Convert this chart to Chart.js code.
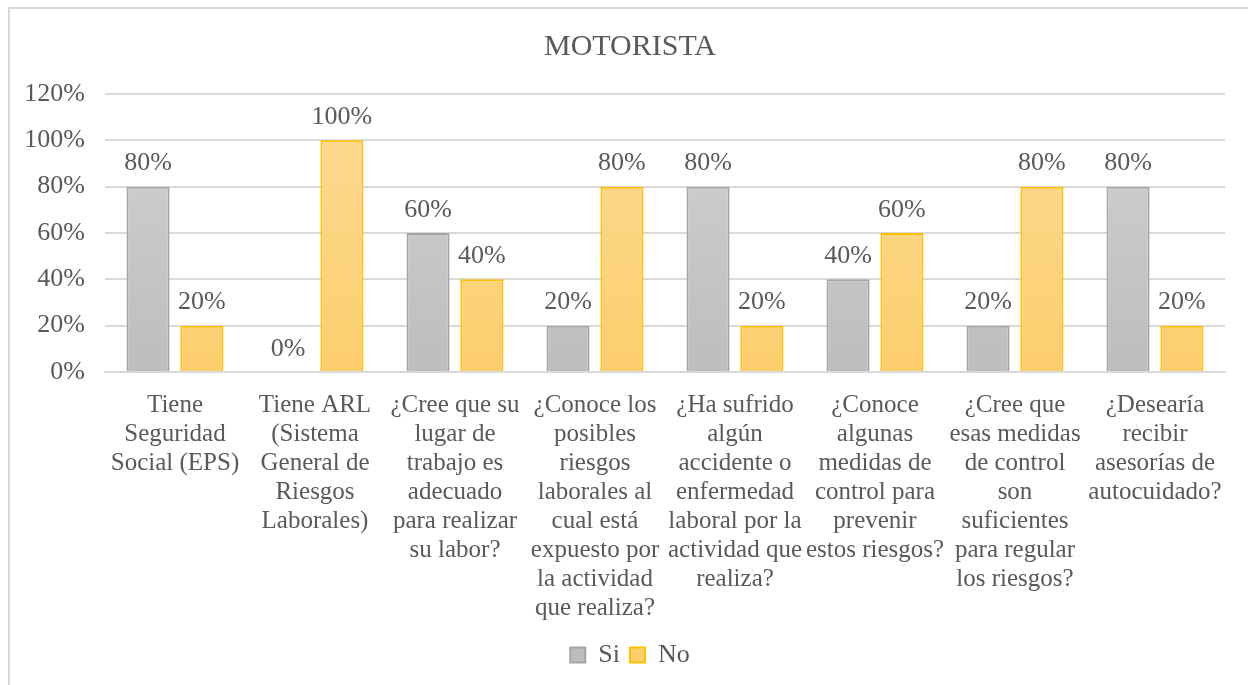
<!DOCTYPE html>
<html>
<head>
<meta charset="utf-8">
<script src="https://cdn.jsdelivr.net/npm/chart.js@4/dist/chart.umd.min.js"></script>
<style>
  html, body { margin: 0; padding: 0; background: #fff; }
  #wrap {
    position: absolute; left: 8px; top: 7px;
    width: 1240px; height: 678px;
    border-top: 2px solid #d9d9d9; border-left: 2px solid #d9d9d9;
  }
</style>
</head>
<body>
<div id="wrap"><canvas id="chart-area"></canvas></div>
<script>
// chart data
var categories = [
	["Tiene", "Seguridad", "Social (EPS)"],
	["Tiene ARL", "(Sistema", "General de", "Riesgos", "Laborales)"],
	["¿Cree que su", "lugar de", "trabajo es", "adecuado", "para realizar", "su labor?"],
	["¿Conoce los", "posibles", "riesgos", "laborales al", "cual está", "expuesto por", "la actividad", "que realiza?"],
	["¿Ha sufrido", "algún", "accidente o", "enfermedad", "laboral por la", "actividad que", "realiza?"],
	["¿Conoce", "algunas", "medidas de", "control para", "prevenir", "estos riesgos?"],
	["¿Cree que", "esas medidas", "de control", "son", "suficientes", "para regular", "los riesgos?"],
	["¿Desearía", "recibir", "asesorías de", "autocuidado?"]
];
var siValues = [80, 0, 60, 20, 80, 40, 20, 80];
var noValues = [20, 100, 40, 80, 20, 60, 80, 20];
var yTicks = [0, 20, 40, 60, 80, 100, 120];

var textColor = "#595959";
var fontFamily = "'Liberation Serif', 'Times New Roman', serif";

var gradient = function(top, bottom) {
	return function(context) {
		var area = context.chart.chartArea;
		if (!area) return bottom;
		var g = context.chart.ctx.createLinearGradient(0, area.top, 0, area.bottom);
		g.addColorStop(0, top);
		g.addColorStop(1, bottom);
		return g;
	};
};

// draws the percentage over each bar
var valueLabels = {
	id: "valueLabels",
	afterDatasetsDraw: function(chart) {
		var ctx = chart.ctx;
		ctx.save();
		ctx.font = "26px " + fontFamily;
		ctx.fillStyle = textColor;
		ctx.textAlign = "center";
		ctx.textBaseline = "middle";
		chart.data.datasets.forEach(function(ds, i) {
			chart.getDatasetMeta(i).data.forEach(function(bar, j) {
				ctx.fillText(ds.data[j] + "%", bar.x, bar.y - 23);
			});
		});
		ctx.restore();
	}
};

window.onload = function() {
	var ctx = document.getElementById("chart-area").getContext("2d");
	ctx.canvas.width = 1240;
	ctx.canvas.height = 678;
	window.myBar = new Chart(ctx, {
		type: "bar",
		data: {
			labels: categories,
			datasets: [{
				label: "Si",
				data: siValues,
				backgroundColor: gradient("#d2d2d2", "#bdbdbd"),
				borderColor: "#a5a5a5",
				borderWidth: 2
			}, {
				label: "No",
				data: noValues,
				backgroundColor: gradient("#fddb96", "#fcce6c"),
				borderColor: "#ffc000",
				borderWidth: 2
			}]
		},
		options: {
			responsive: false,
			animation: false,
			categoryPercentage: 0.77,
			barPercentage: 0.8,
			layout: { padding: { left: 0, right: 0, top: 0, bottom: 9 } },
			plugins: {
				title: {
					display: true,
					text: "MOTORISTA",
					color: textColor,
					font: { family: fontFamily, size: 30, weight: "normal", lineHeight: 1.2 },
					padding: { top: 20, bottom: 29 }
				},
				legend: {
					position: "bottom",
					labels: {
						color: textColor,
						font: { family: fontFamily, size: 26 },
						boxWidth: 15,
						boxHeight: 15,
						padding: 10
					}
				},
				tooltip: { enabled: false }
			},
			scales: {
				x: {
					afterFit: function(axis) { axis.height = 260; },
					grid: { display: false },
					border: { color: "#d9d9d9", width: 2 },
					ticks: {
						color: textColor,
						font: { family: fontFamily, size: 25, lineHeight: 1.16 },
						maxRotation: 0,
						autoSkip: false,
						padding: 11
					}
				},
				y: {
					min: 0,
					max: 120,
					afterFit: function(axis) { axis.width = 95; },
					afterBuildTicks: function(axis) {
						axis.ticks = yTicks.map(function(v) { return { value: v }; });
					},
					grid: { color: "#d9d9d9", lineWidth: 2, drawTicks: false },
					border: { display: false },
					ticks: {
						color: textColor,
						font: { family: fontFamily, size: 26 },
						padding: 20,
						callback: function(v) { return v + "%"; }
					}
				},
				// empty right gutter so the plot stops short of the edge
				gutter: {
					position: "right",
					afterFit: function(axis) { axis.width = 25; },
					grid: { display: false },
					border: { display: false },
					ticks: { display: false }
				}
			}
		},
		plugins: [valueLabels]
	});
};
</script>
</body>
</html>
